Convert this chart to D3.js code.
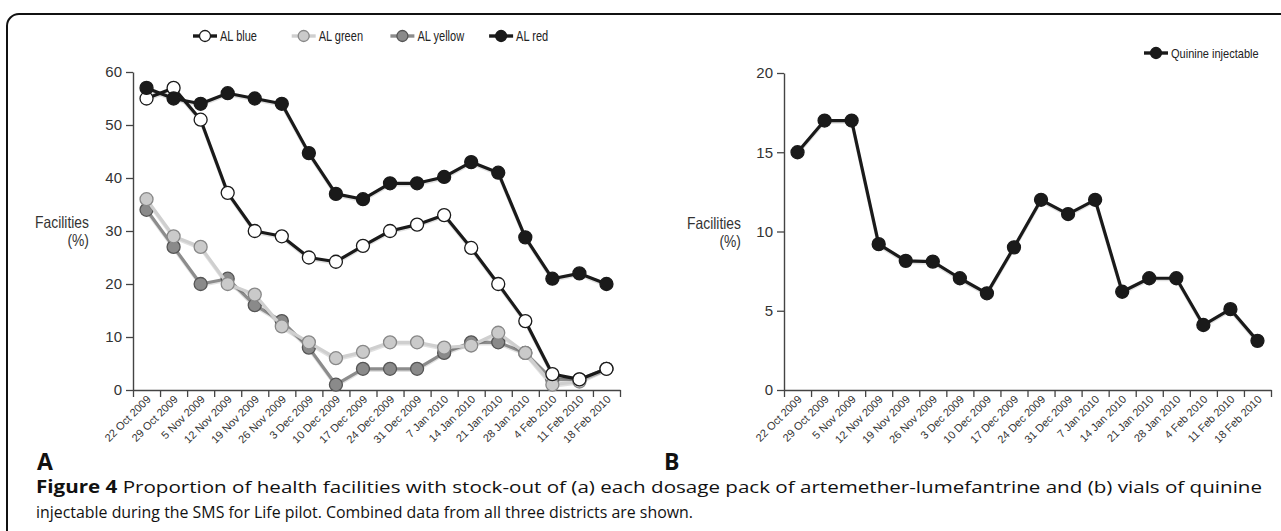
<!DOCTYPE html>
<html>
<head>
<meta charset="utf-8">
<script src="https://cdn.jsdelivr.net/npm/d3@7"></script>
<style>
  body { margin: 0; background: #fff; }
  svg { display: block; }
</style>
</head>
<body>
<svg width="1281" height="531"></svg>
<script>
// weekly reporting dates
var dates = ["22 Oct 2009", "29 Oct 2009", "5 Nov 2009", "12 Nov 2009", "19 Nov 2009",
  "26 Nov 2009", "3 Dec 2009", "10 Dec 2009", "17 Dec 2009", "24 Dec 2009", "31 Dec 2009",
  "7 Jan 2010", "14 Jan 2010", "21 Jan 2010", "28 Jan 2010", "4 Feb 2010", "11 Feb 2010",
  "18 Feb 2010"];

// panel A - artemether-lumefantrine packs (% facilities stocked out)
var alBlue   = [55, 57, 51, 37.2, 30, 29, 25, 24.2, 27.2, 30, 31.2, 33, 26.8, 20, 13, 3, 2, 4];
var alGreen  = [36, 29, 27, 20, 18, 12, 9, 6, 7.2, 9, 9, 8, 8.4, 10.8, 7, 1, 1.6, 4];
var alYellow = [34, 27, 20, 21, 16, 13, 8, 1, 4, 4, 4, 7, 9, 9, 7, 2, 2, 4];
var alRed    = [57, 55, 54, 56, 55, 54, 44.7, 37, 36, 39, 39, 40.2, 43, 41, 28.8, 21, 22, 20];

// panel B - quinine injectable
var quinine = [15, 17, 17, 9.2, 8.15, 8.1, 7.05, 6.1, 9, 12, 11.1, 12, 6.2, 7.05, 7.05, 4.1, 5.1, 3.1];

var yTicksA = [0, 10, 20, 30, 40, 50, 60];
var yTicksB = [0, 5, 10, 15, 20];

var svg = d3.select("svg");
var chartFont = "'Liberation Sans', Arial, sans-serif";
var capFont = "'Open Sans', Arial, sans-serif";

// squeeze a text horizontally, the chart used a narrow face
function condense(sel, k) {
    var w = sel.node().getComputedTextLength();
    sel.attr("textLength", w * k).attr("lengthAdjust", "spacingAndGlyphs");
}

// outer rounded frame (runs off the right and bottom edges)
svg.append("rect")
    .attr("x", 7).attr("y", 14)
    .attr("width", 1400).attr("height", 600)
    .attr("rx", 12)
    .attr("fill", "none")
    .attr("stroke", "#111")
    .attr("stroke-width", 2);

function drawPanel(left, right, top, bottom, yMax, yTicks, series, legendX, legendY, legendGap, labelX, legendSize) {
    var x = d3.scaleBand().domain(dates).range([left, right]);
    var xi = d3.scaleLinear().domain([0, dates.length]).range([left, right]);
    var y = d3.scaleLinear().domain([0, yMax]).range([bottom, top]);

    // x axis: ticks at band boundaries
    var gx = svg.append("g")
        .attr("transform", "translate(0," + bottom + ")")
        .call(d3.axisBottom(xi).tickValues(d3.range(dates.length + 1)).tickFormat("").tickSize(7).tickSizeOuter(0));
    gx.select(".domain").attr("stroke", "#444").attr("stroke-width", 1.4);
    gx.selectAll(".tick line").attr("stroke", "#444").attr("stroke-width", 1.3);

    // x tick labels, rotated
    var gl = svg.append("g")
        .attr("transform", "translate(0," + bottom + ")")
        .call(d3.axisBottom(x).tickSize(0).tickPadding(0));
    gl.select(".domain").remove();
    gl.selectAll(".tick text")
        .attr("font-family", chartFont)
        .attr("font-size", "11px")
        .attr("fill", "#333")
        .attr("text-anchor", "end")
        .attr("dy", null)
        .attr("y", 0)
        .attr("transform", "translate(5,10) rotate(-45)");

    // y axis
    var gy = svg.append("g")
        .attr("transform", "translate(" + left + ",0)")
        .call(d3.axisLeft(y).tickValues(yTicks).tickSize(7).tickSizeOuter(0).tickPadding(4));
    gy.select(".domain").attr("stroke", "#444").attr("stroke-width", 1.4);
    gy.selectAll(".tick line").attr("stroke", "#444").attr("stroke-width", 1.3);
    gy.selectAll(".tick text")
        .attr("font-family", chartFont)
        .attr("font-size", "15px")
        .attr("fill", "#333");

    // y label
    var mid = (top + bottom) / 2;
    var l1 = svg.append("text").attr("x", labelX).attr("y", mid - 3)
        .attr("text-anchor", "end").attr("font-family", chartFont)
        .attr("font-size", "16.5px").attr("fill", "#333").text("Facilities");
    condense(l1, 0.84);
    var l2 = svg.append("text").attr("x", labelX).attr("y", mid + 15)
        .attr("text-anchor", "end").attr("font-family", chartFont)
        .attr("font-size", "16.5px").attr("fill", "#333").text("(%)");
    condense(l2, 0.84);

    var line = d3.line()
        .x(function (d, i) { return x(dates[i]) + x.bandwidth() / 2; })
        .y(function (d) { return y(d); });

    series.forEach(function (s) {
        // faint drop shadow under each line
        svg.append("path")
            .datum(s.values)
            .attr("d", line)
            .attr("fill", "none")
            .attr("stroke", "rgba(0,0,0,0.12)")
            .attr("stroke-width", 3.2)
            .attr("transform", "translate(0,1.5)");
        svg.append("path")
            .datum(s.values)
            .attr("d", line)
            .attr("fill", "none")
            .attr("stroke", s.line)
            .attr("stroke-width", 3.2)
            .attr("stroke-linejoin", "round");
        svg.append("g").selectAll("circle")
            .data(s.values)
            .enter().append("circle")
            .attr("cx", function (d, i) { return x(dates[i]) + x.bandwidth() / 2; })
            .attr("cy", function (d) { return y(d); })
            .attr("r", 6.5)
            .attr("fill", s.fill)
            .attr("stroke", s.stroke)
            .attr("stroke-width", 1.3);
    });

    // legend
    series.slice().sort(function (a, b) { return a.order - b.order; }).forEach(function (s, i) {
        var lx = legendX + i * legendGap;
        svg.append("line")
            .attr("x1", lx - 12).attr("x2", lx + 12)
            .attr("y1", legendY).attr("y2", legendY)
            .attr("stroke", s.line)
            .attr("stroke-width", 3.4);
        svg.append("circle")
            .attr("cx", lx).attr("cy", legendY).attr("r", 5.5)
            .attr("fill", s.fill)
            .attr("stroke", s.stroke)
            .attr("stroke-width", 1.3);
        var t = svg.append("text")
            .attr("x", lx + 15).attr("y", legendY + 5)
            .attr("font-family", chartFont)
            .attr("font-size", legendSize + "px")
            .attr("fill", "#222")
            .text(s.name);
        condense(t, 14.5 * 0.76 / legendSize);
    });
}

drawPanel(133, 620, 72, 390, 60, yTicksA, [
    { name: "AL yellow", values: alYellow, line: "#8c8c8c", fill: "#8a8a8a", stroke: "#555", order: 2 },
    { name: "AL green", values: alGreen, line: "#cfcfcf", fill: "#cacaca", stroke: "#888", order: 1 },
    { name: "AL blue", values: alBlue, line: "#1a1a1a", fill: "#fff", stroke: "#1a1a1a", order: 0 },
    { name: "AL red", values: alRed, line: "#1a1a1a", fill: "#1a1a1a", stroke: "#1a1a1a", order: 3 }
], 205, 36, 98.7, 89, 14.5);

drawPanel(784, 1271, 73, 390, 20, yTicksB, [
    { name: "Quinine injectable", values: quinine, line: "#1a1a1a", fill: "#1a1a1a", stroke: "#1a1a1a", order: 0 }
], 1156, 53, 0, 741, 13);

// panel letters
svg.append("text").attr("x", 37).attr("y", 470)
    .attr("font-family", capFont)
    .attr("font-weight", "bold").attr("font-size", "23px").attr("fill", "#111").text("A");
svg.append("text").attr("x", 664).attr("y", 470)
    .attr("font-family", capFont)
    .attr("font-weight", "bold").attr("font-size", "23px").attr("fill", "#111").text("B");

// caption
var cap1 = svg.append("text").attr("x", 36).attr("y", 493)
    .attr("font-family", capFont)
    .attr("font-size", "17px").attr("fill", "#111")
    .attr("textLength", 1226).attr("lengthAdjust", "spacingAndGlyphs");
cap1.append("tspan").attr("font-weight", "bold").text("Figure 4");
cap1.append("tspan").text(" Proportion of health facilities with stock-out of (a) each dosage pack of artemether-lumefantrine and (b) vials of quinine");

svg.append("text").attr("x", 36).attr("y", 518)
    .attr("font-family", capFont)
    .attr("font-size", "17px").attr("fill", "#111")
    .attr("textLength", 657).attr("lengthAdjust", "spacingAndGlyphs")
    .text("injectable during the SMS for Life pilot. Combined data from all three districts are shown.");
</script>
</body>
</html>
